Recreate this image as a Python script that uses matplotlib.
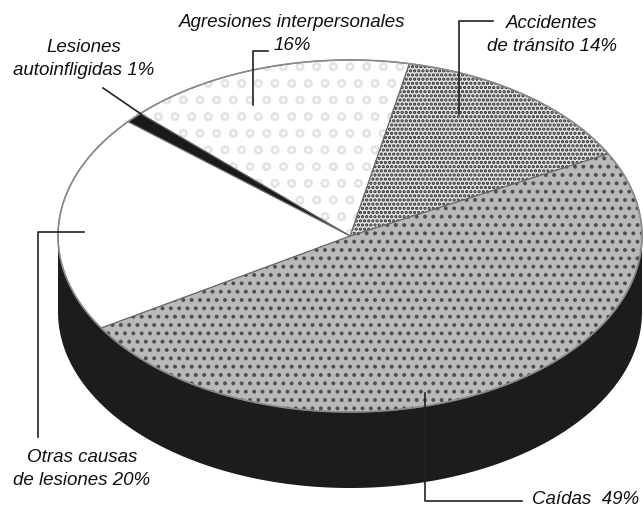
import numpy as np
import matplotlib.pyplot as plt
from matplotlib.patches import Polygon

# datos (porcentaje de lesiones por causa), en sentido antihorario
causas = ['Caídas', 'Accidentes de tránsito', 'Agresiones interpersonales',
          'Lesiones autoinfligidas', 'Otras causas de lesiones']
porcentajes = [49, 14, 16, 1, 20]
etiquetas = ['Caídas  49%', 'Accidentes\nde tránsito 14%',
             'Agresiones interpersonales\n16%', 'Lesiones\nautoinfligidas 1%',
             'Otras causas\nde lesiones 20%']

# estilo de cada porcion
caras = ['#b9b9b9', '#e4e4e4', '#ffffff', '#1a1a1a', '#ffffff']
tramas = ['..', '....', 'o', None, None]
color_trama = ['#4e4e4e', '#262626', '#e4e4e4', '#1a1a1a', '#ffffff']

plt.rcParams['font.family'] = ['Liberation Sans', 'DejaVu Sans']
plt.rcParams['hatch.linewidth'] = 1.6

fig = plt.figure(figsize=(6.43, 5.11), dpi=100)
ax = fig.add_axes([0, 0, 1, 1])
ax.set_xlim(0, 643)
ax.set_ylim(511, 0)
ax.axis('off')

# geometria de la torta "3D" (en pixeles)
cx, cy = 350, 236
a, b = 292, 176
prof = 76
inicio = 211.5


def punto(t):
    t = np.radians(t)
    return cx + a * np.cos(t), cy - b * np.sin(t)


# lateral negro
t = np.linspace(180, 360, 200)
sup = np.column_stack(punto(t))
inf = sup + [0, prof]
ax.add_patch(Polygon(np.vstack([sup, inf[::-1]]), closed=True,
                     facecolor='#1c1c1c', edgecolor='none'))

# cara superior
ang = inicio
for p, fc, h, hc in zip(porcentajes, caras, tramas, color_trama):
    span = p * 3.6
    t = np.linspace(ang, ang + span, max(int(span * 2), 4))
    pts = np.vstack([[cx, cy], np.column_stack(punto(t))])
    ax.add_patch(Polygon(pts, closed=True, facecolor=fc, edgecolor=hc,
                         hatch=h, lw=0))
    ax.add_patch(Polygon(pts, closed=True, facecolor='none',
                         edgecolor='#666666', lw=0.8))
    ang += span

t = np.linspace(0, 360, 400)
ax.plot(*punto(t), color='#8a8a8a', lw=1.2)

# rotulos y lineas guia
fuente = dict(fontsize=13.5, style='italic', color='#111111',
              ha='center', va='center', multialignment='center',
              linespacing=1.45)
ax.text(532, 500, etiquetas[0], fontsize=13.5, style='italic',
        color='#111111', ha='left', va='center')
ax.text(552, 35, etiquetas[1], **fuente)
ax.text(292, 34, etiquetas[2], **fuente)
ax.text(84, 59, etiquetas[3], **fuente)
ax.text(82, 469, etiquetas[4], **fuente)

guias = [
    ([425, 425, 522], [393, 501, 501]),
    ([459, 459, 493], [114, 21, 21]),
    ([253, 253, 268], [105, 51, 51]),
    ([103, 141], [88, 114]),
    ([84, 38, 38], [232, 232, 437]),
]
for gx, gy in guias:
    ax.plot(gx, gy, color='#222222', lw=1.2)

plt.savefig('out.png', dpi=100)
